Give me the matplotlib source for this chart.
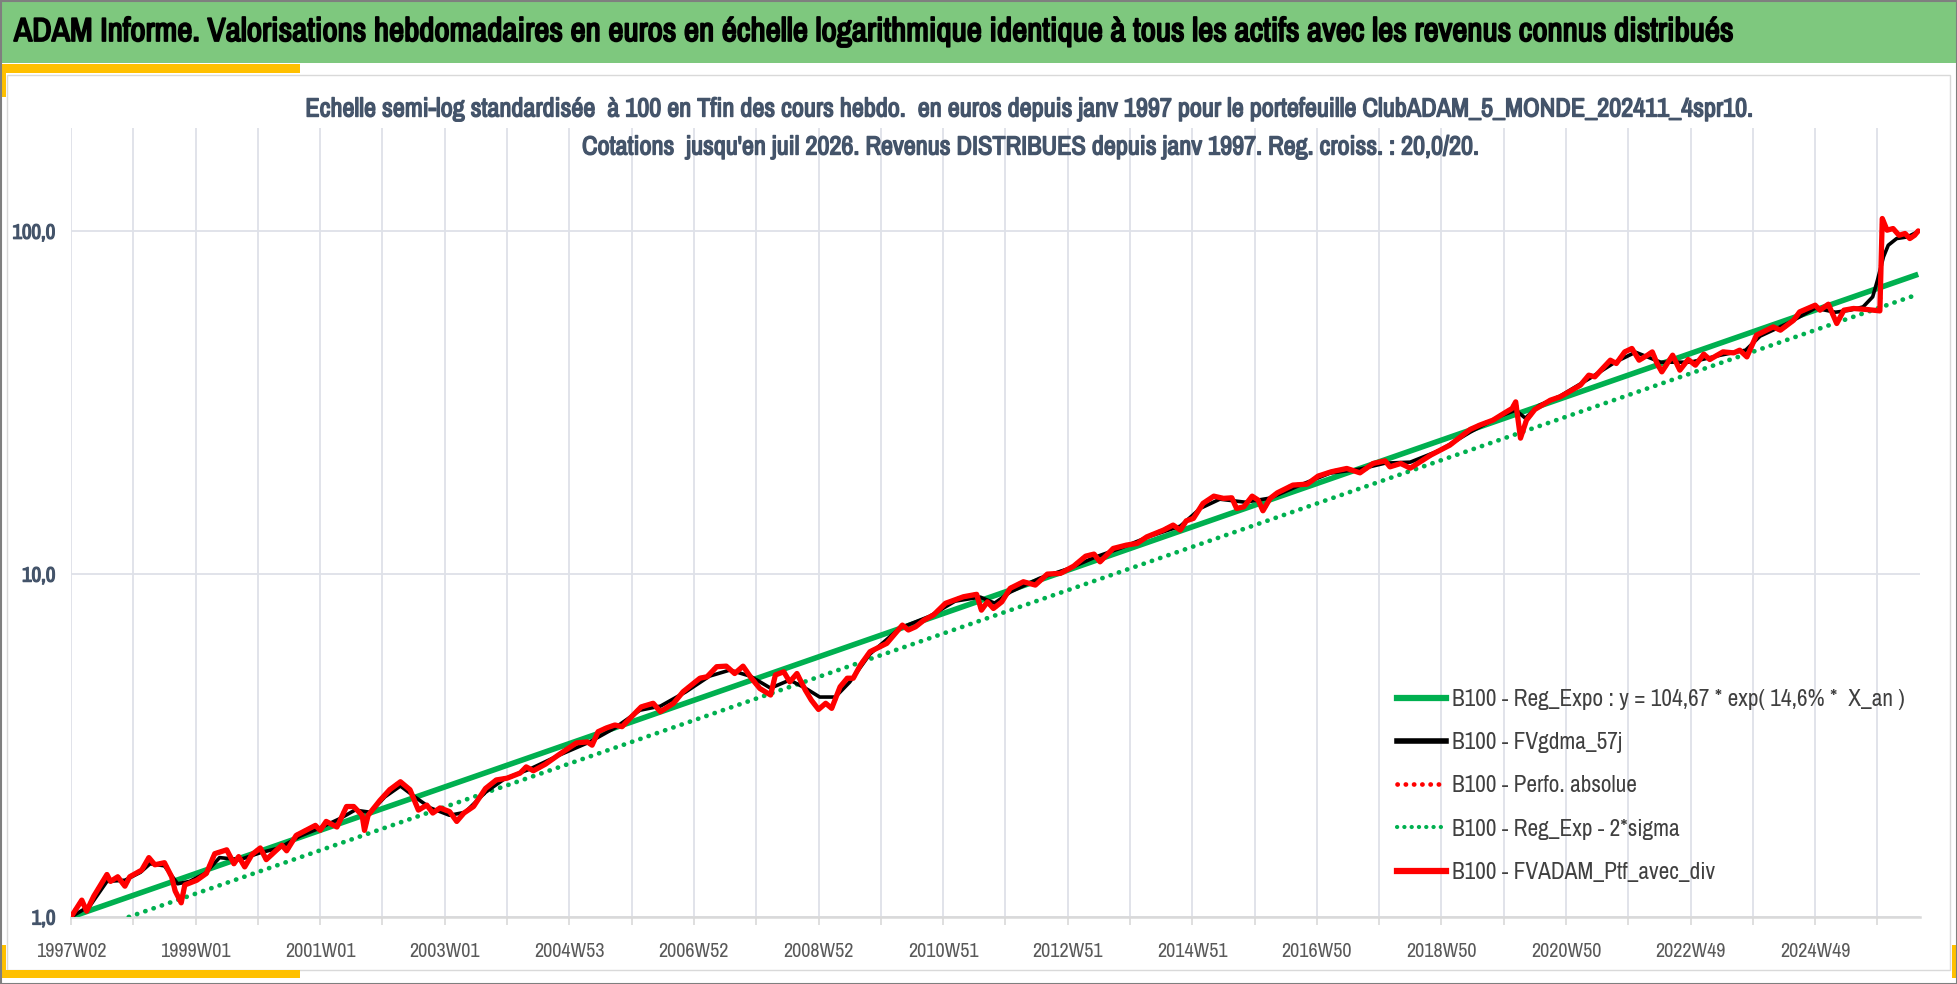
import matplotlib
matplotlib.use("Agg")
import matplotlib.pyplot as plt
import matplotlib.patheffects as pe
from matplotlib import font_manager
from matplotlib.lines import Line2D
from matplotlib.patches import Rectangle
from matplotlib.ticker import FixedLocator, NullLocator

# weekly category index (0 = 1997W02), values standardised to 100 at Tfin
RED_WEEK = [
    0, 9, 13, 19, 30, 33, 39, 45, 49, 59, 65, 70, 78, 84, 87, 92, 95, 105, 113, 120,
    130, 136, 140, 145, 151, 158, 163, 176, 180, 188, 204, 208, 213, 222, 230, 236, 243, 245, 248, 258,
    266, 275, 283, 290, 297, 302, 308, 316, 322, 328, 336, 346, 355, 364, 375,
    380, 386, 396, 407, 422, 431, 435, 440, 447, 454, 460, 468, 476, 486, 492, 503, 511, 525, 531, 539,
    547, 554, 561, 568, 575, 584, 588, 595, 600, 606, 613, 618, 624, 630, 635, 642, 648, 653, 659, 667,
    681, 694, 699, 705, 712, 720, 730, 739,
    745, 756, 760, 765, 770, 777, 784, 795, 805, 815, 826, 837, 847, 854, 859, 870, 881, 890, 898, 912,
    920, 926, 931, 937, 945, 954, 962, 969, 973, 979, 986, 991, 995, 1001, 1007, 1020, 1032, 1041, 1052, 1065,
    1076, 1087, 1097, 1101, 1110, 1118, 1135, 1151,
    1168, 1176, 1187, 1196, 1203, 1206, 1210, 1215, 1222, 1235, 1243, 1249, 1260, 1267, 1272, 1285, 1290, 1297, 1303, 1309,
    1316, 1320, 1324, 1328, 1337, 1343, 1350, 1356, 1363, 1368, 1379, 1388, 1393, 1399, 1407, 1421, 1427, 1438, 1443, 1456,
    1460, 1467, 1474, 1480, 1488, 1499, 1510, 1512, 1516, 1521, 1526, 1531, 1535, 1539, 1542,
]
RED_VAL = [
    1.00, 1.12, 1.04, 1.15, 1.33, 1.27, 1.31, 1.23, 1.31, 1.37, 1.49, 1.42, 1.44, 1.31, 1.19, 1.10, 1.24, 1.28, 1.34, 1.53,
    1.57, 1.43, 1.50, 1.40, 1.52, 1.59, 1.47, 1.62, 1.56, 1.73, 1.85, 1.79, 1.90, 1.83, 2.10, 2.10, 1.98, 1.79, 1.98, 2.19,
    2.35, 2.48, 2.35, 2.05, 2.12, 2.01, 2.08, 2.03, 1.90, 2.01, 2.10, 2.37, 2.51, 2.54, 2.63,
    2.74, 2.67, 2.79, 2.97, 3.22, 3.24, 3.17, 3.47, 3.56, 3.63, 3.59, 3.84, 4.10, 4.20, 3.97, 4.20, 4.54, 4.97, 5.02, 5.37,
    5.39, 5.13, 5.39, 4.97, 4.64, 4.44, 5.08, 5.19, 4.85, 5.13, 4.59, 4.29, 4.03, 4.20, 4.06, 4.69, 4.97, 4.97, 5.43, 5.94,
    6.28, 7.10, 6.87, 7.02, 7.34, 7.60, 8.22, 8.44,
    8.59, 8.73, 7.85, 8.30, 7.94, 8.30, 9.09, 9.50, 9.29, 10.00, 10.05, 10.55, 11.28, 11.44, 10.86, 11.88, 12.15, 12.29, 12.84, 13.44,
    13.90, 13.44, 14.30, 14.54, 16.08, 16.88, 16.63, 16.69, 15.54, 15.71, 16.88, 16.44, 15.30, 16.63, 17.26, 18.18, 18.30, 19.31, 19.88, 20.33,
    19.74, 21.02, 21.40, 20.55, 21.02, 20.37, 22.23, 23.77,
    26.42, 27.20, 28.12, 29.41, 30.42, 31.79, 24.92, 28.12, 30.22, 32.16, 32.88, 33.78, 35.56, 38.04, 37.61, 42.06, 41.14, 44.47, 45.50, 42.06,
    43.50, 44.47, 41.14, 38.89, 43.50, 39.34, 42.26, 40.68, 43.79, 42.26, 44.47, 44.18, 44.99, 43.00, 49.76, 52.60, 51.45, 55.02, 58.17, 60.85,
    58.85, 61.26, 53.81, 58.85, 59.52, 59.12, 58.57, 108.9, 100.7, 101.8, 97.3, 98.5, 95.2, 97.3, 100.2,
]

# FVgdma_57j (smoothed)
BLACK_WEEK = [
    0, 16, 30, 45, 58, 66, 78, 89, 99, 112, 124, 141, 158, 174, 191, 208, 225, 237, 250, 262,
    275, 287, 300, 316, 329, 346, 362, 383, 408, 433, 454, 475, 492, 513, 533, 550, 567, 584, 600, 613,
    625, 638, 650, 667, 692, 717, 738, 759, 771, 784, 809, 834, 855, 876, 901, 926, 943, 959, 980, 1001,
    1026, 1051, 1076, 1097, 1118, 1143, 1168, 1193, 1206, 1214, 1226, 1243, 1268, 1289, 1306, 1327, 1352, 1377, 1398, 1410,
    1435, 1456, 1473, 1485, 1496, 1504, 1508, 1513, 1517, 1524, 1533, 1542,
]
BLACK_VAL = [
    1.00, 1.08, 1.27, 1.28, 1.35, 1.43, 1.41, 1.25, 1.27, 1.34, 1.49, 1.47, 1.54, 1.59, 1.72, 1.82, 1.94, 2.05, 2.02, 2.24,
    2.41, 2.24, 2.08, 1.98, 2.02, 2.31, 2.53, 2.70, 2.97, 3.24, 3.56, 4.01, 4.12, 4.53, 5.04, 5.25, 5.04, 4.65, 4.91, 4.65,
    4.38, 4.38, 4.84, 5.85, 6.96, 7.54, 8.34, 8.57, 8.23, 8.86, 9.74, 10.41, 11.21, 11.90, 12.91, 13.80, 15.57, 16.54, 16.21, 16.66,
    18.18, 19.70, 20.24, 21.07, 21.21, 22.99, 25.94, 28.88, 30.07, 28.50, 31.10, 33.04, 37.27, 41.50, 44.38, 41.50, 41.50, 43.50, 44.99, 49.43,
    54.29, 59.64, 58.05, 58.85, 60.16, 64.36, 71.97, 84.18, 91.03, 95.2, 96.25, 99.8,
]

# regression lines (straight in semi-log)
REG_WEEK = [0, 1542]
REG_VAL = [1.00, 74.9]
SIGMA_VAL = [0.874, 65.5]

TICK_LABELS = [
    "1997W02", "1999W01", "2001W01", "2003W01", "2004W53", "2006W52", "2008W52", "2010W51",
    "2012W51", "2014W51", "2016W50", "2018W50", "2020W50", "2022W49", "2024W49",
]
N_WEEKS = 1543.5

LEGEND_LABELS = [
    "B100 - Reg_Expo : y = 104,67 * exp( 14,6% *  X_an )",
    "B100 - FVgdma_57j",
    "B100 - Perfo. absolue",
    "B100 - Reg_Exp - 2*sigma",
    "B100 - FVADAM_Ptf_avec_div",
]

HEADER = ("ADAM Informe. Valorisations hebdomadaires en euros en échelle logarithmique "
          "identique à tous les actifs avec les revenus connus distribués")
TITLE_1 = ("Echelle semi-log standardisée  à 100 en Tfin des cours hebdo.  en euros depuis janv 1997 "
           "pour le portefeuille ClubADAM_5_MONDE_202411_4spr10.")
TITLE_2 = ("Cotations  jusqu'en juil 2026. Revenus DISTRIBUES depuis janv 1997. "
           "Reg. croiss. : 20,0/20.")

# a narrow face is closest to the original Calibri look
FONT = "Lato"
for f in font_manager.fontManager.ttflist:
    if "Narrow" in f.name or "Condensed" in f.name:
        FONT = f.name
        break


def _w(v):
    return v if isinstance(v, (int, float)) else font_manager.weight_dict.get(v, 400)


HAS_BOLD = any(f.name == FONT and _w(f.weight) >= 600 for f in font_manager.fontManager.ttflist)
plt.rcParams["font.family"] = [FONT, "DejaVu Sans"]

GREEN = "#00B050"
RED = "#FF0000"
SLATE = "#44546A"
GRID = "#DEE1E8"

W, H = 1958, 984
fig = plt.figure(figsize=(W / 100, H / 100), dpi=100)


def fx(x):
    return x / W


def fy(y):
    return 1 - y / H


def fig_rect(x0, y0, x1, y1, **kw):
    fig.patches.append(Rectangle((fx(x0), fy(y1)), fx(x1) - fx(x0), (y1 - y0) / H,
                                 transform=fig.transFigure, figure=fig, zorder=-10, **kw))


def make_bold(txt, stroke):
    # fake bold when the narrow family ships no bold face
    if HAS_BOLD:
        txt.set_fontweight("bold")
    else:
        txt.set_path_effects([pe.withStroke(linewidth=stroke, foreground=txt.get_color())])


# frame decorations
fig_rect(7, 75, 1950, 970, facecolor="white", edgecolor="#D9D9D9", lw=1)
fig_rect(0, 0, W, 63, facecolor="#7EC87E", edgecolor="none")
fig_rect(0, 64, 300, 73, facecolor="#FFC000", edgecolor="none")
fig_rect(0, 64, 6, 97, facecolor="#FFC000", edgecolor="none")
fig_rect(0, 970, 300, 978, facecolor="#FFC000", edgecolor="none")
fig_rect(0, 945, 6, 978, facecolor="#FFC000", edgecolor="none")
fig_rect(1952, 945, 1958, 978, facecolor="#FFC000", edgecolor="none")
fig_rect(0.5, 0.5, W - 0.5, H - 0.5, facecolor="none", edgecolor="#7F7F7F", lw=1.5)

header = fig.text(fx(14), fy(32), HEADER, ha="left", va="center", fontsize=20, color="black")
t1 = fig.text(fx(1030), fy(109), TITLE_1, ha="center", va="center", fontsize=16, color=SLATE)
t2 = fig.text(fx(1030), fy(147), TITLE_2, ha="center", va="center", fontsize=16, color=SLATE)
make_bold(header, 1.3)
make_bold(t1, 1.0)
make_bold(t2, 1.0)

renderer = fig.canvas.get_renderer()
for txt, target in [(header, 1718), (t1, 1452)]:
    bb = txt.get_window_extent(renderer)
    txt.set_fontsize(txt.get_fontsize() * target / bb.width)
t2.set_fontsize(t1.get_fontsize())

ax = fig.add_axes([fx(71), fy(917), fx(1920) - fx(71), (917 - 128) / H])
ax.set_facecolor("none")

dots = (0, (0.05, 1.8))
ax.plot(REG_WEEK, REG_VAL, color=GREEN, lw=4.0, solid_capstyle="butt", zorder=3)
ax.plot(BLACK_WEEK, BLACK_VAL, color="black", lw=2.6, solid_joinstyle="round", zorder=4)
ax.plot(RED_WEEK, RED_VAL, color=RED, lw=3.2, ls=dots, dash_capstyle="round", zorder=4)
ax.plot(REG_WEEK, SIGMA_VAL, color=GREEN, lw=3.4, ls=dots, dash_capstyle="round", zorder=3)
ax.plot(RED_WEEK, RED_VAL, color=RED, lw=3.8, solid_joinstyle="round", solid_capstyle="round", zorder=5)

ax.set_yscale("log")
ax.set_ylim(1, 200)
ax.set_xlim(0, N_WEEKS)

ax.yaxis.set_major_locator(FixedLocator([1, 10, 100]))
ax.yaxis.set_minor_locator(NullLocator())
ax.set_yticklabels(["1,0", "10,0", "100,0"])

xt = list(range(0, int(N_WEEKS) + 1, 52))
ax.xaxis.set_major_locator(FixedLocator(xt))
ax.set_xticklabels([TICK_LABELS[i // 2] if i % 2 == 0 else "" for i in range(len(xt))])

ax.grid(True, color=GRID, lw=1.3)
ax.set_axisbelow(True)
for side in ["left", "top", "right"]:
    ax.spines[side].set_visible(False)
ax.spines["bottom"].set_color("#D9D9D9")
ax.spines["bottom"].set_linewidth(1.8)

ax.tick_params(axis="x", length=6, width=1.2, color="#D9D9D9", pad=12,
               labelsize=14.5, labelcolor="#595959")
ax.tick_params(axis="y", length=0, pad=11, labelsize=15, labelcolor=SLATE)
for lab in ax.get_yticklabels():
    make_bold(lab, 0.9)

handles = [
    Line2D([], [], color=GREEN, lw=4.5),
    Line2D([], [], color="black", lw=4.0),
    Line2D([], [], color=RED, lw=3.4, ls=(0, (0.05, 1.7)), dash_capstyle="round"),
    Line2D([], [], color=GREEN, lw=3.0, ls=(0, (0.05, 1.7)), dash_capstyle="round"),
    Line2D([], [], color=RED, lw=4.5),
]
leg = ax.legend(handles, LEGEND_LABELS, loc="upper left",
                bbox_to_anchor=(fx(1397), fy(689)), bbox_transform=fig.transFigure,
                frameon=False, fontsize=16.8, handlelength=2.1, handletextpad=0.26,
                labelspacing=0.95, borderpad=0, borderaxespad=0)
for t in leg.get_texts():
    t.set_color("#404040")

fig.savefig("out.png", dpi=100)
